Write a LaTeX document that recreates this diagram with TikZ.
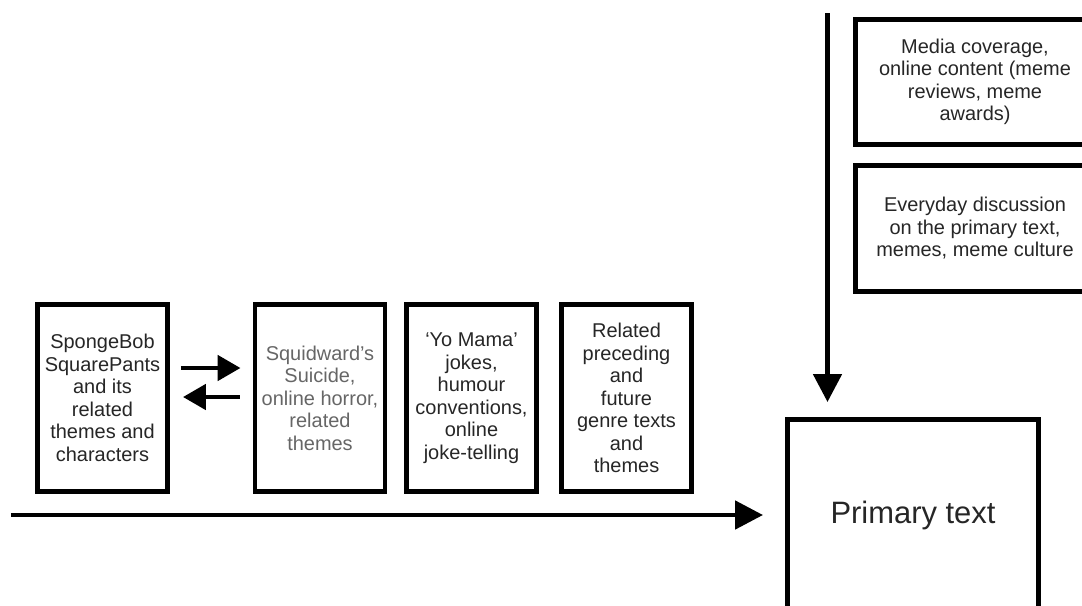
\documentclass[tikz,border=0pt]{standalone}
\usepackage{fontspec}
\setmainfont{Liberation Sans}
\usetikzlibrary{arrows.meta}
\begin{document}
\begin{tikzpicture}[line join=miter,
	txt/.style={text=black!85, font=\fontsize{14.2}{16}\selectfont, align=center},
	box/.style={draw, line width=3.5pt, txt, inner sep=0pt, minimum width=3.25cm, minimum height=4.675cm},
	side/.style={box, minimum width=5.975cm, minimum height=3.15cm},
	big/.style={-{Triangle[length=0.7cm,width=0.7cm]}, line width=3.5pt},
	small/.style={-{Triangle[length=0.575cm,width=0.625cm]}, line width=3.5pt}]
	\def\W{27.05} \def\H{15.125} % frame
	\def\ybox{-9.95} % row of intertexts
	\path[use as bounding box] (0,0) rectangle (\W,-\H);
	\clip (0,0) rectangle (\W,-\H);
	% intertexts
	\node[box] (sponge) at (2.5625,\ybox) {SpongeBob\\SquarePants\\and its\\related\\themes and\\characters};
	\node[box, text=black!60] (squid) at (8.0,\ybox) {Squidward’s\\Suicide,\\online horror,\\related\\themes};
	\node[box] (yomama) at (11.7875,\ybox) {‘Yo Mama’\\jokes,\\humour\\conventions,\\online\\joke-telling};
	\node[box] (genre) at (15.6625,\ybox) {Related\\preceding\\and\\future\\genre texts\\and\\themes};
	% reception side
	\node[side, minimum height=3.125cm] (media) at (24.375,-2.05) {Media coverage,\\online content (meme\\reviews, meme\\awards)};
	\node[side] (talk) at (24.375,-5.7125) {Everyday discussion\\on the primary text,\\memes, meme culture};
	\node[draw, line width=3.5pt, minimum width=6.275cm, minimum height=4.775cm, text=black!85,
		font=\fontsize{22}{26}\selectfont] (prim) at (22.825,-12.875) {Primary text};
	\coordinate (timeline) at (0.275,-12.875);
	\coordinate (feed) at (20.6875,-0.325);
	% arrows
	\draw[big, shorten >=0.55cm] (timeline) -- (prim.west);
	\draw[big, shorten >=0.375cm] (feed) -- (feed |- prim.north);
	\draw[small, shorten <=0.275cm, shorten >=0.3cm] ([yshift=0.75cm]sponge.east) -- ([yshift=0.75cm]squid.west);
	\draw[small, shorten <=0.325cm, shorten >=0.325cm] ([yshift=0.025cm]squid.west) -- ([yshift=0.025cm]sponge.east);
\end{tikzpicture}
\end{document}
